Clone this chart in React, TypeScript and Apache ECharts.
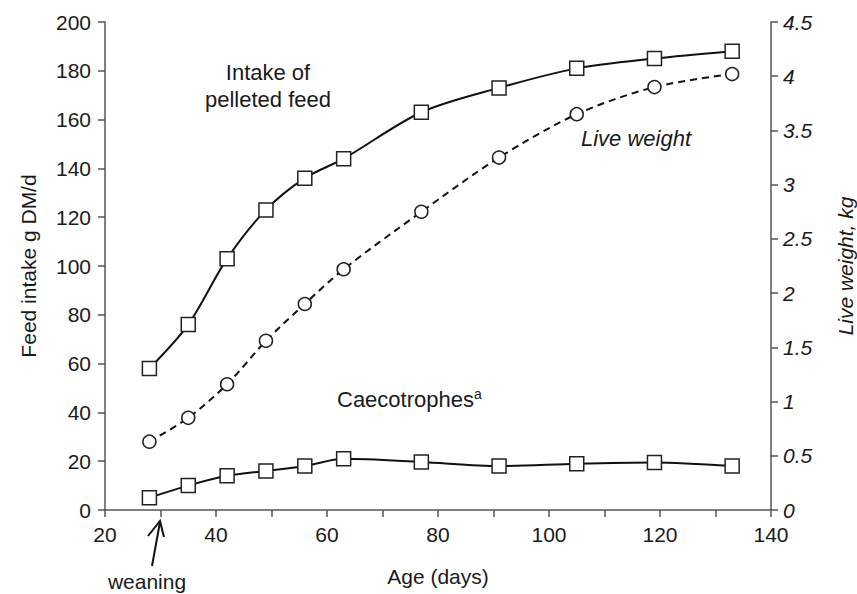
import React, { useEffect, useRef } from "react";
import * as echarts from "echarts";

const ages = [28, 35, 42, 49, 56, 63, 77, 91, 105, 119, 133];
const pelletIntake = [58, 76, 103, 123, 136, 144, 163, 173, 181, 185, 188];
const liveWeight = [0.63, 0.85, 1.16, 1.56, 1.9, 2.22, 2.75, 3.25, 3.65, 3.9, 4.02];
const caecotrophes = [5, 10, 14, 16, 18, 21, 19.7, 18, 19, 19.5, 18];

const FONT = "Liberation Sans, Arial, Helvetica, sans-serif";
const TXT = "#1a1a1a";
const AX = "#555";

export default function App() {
  const ref = useRef<HTMLDivElement>(null);
  useEffect(() => {
    if (!ref.current) return;
    const chart = echarts.init(ref.current, undefined, { renderer: "svg" });
    const pair = (ys: number[]) => ages.map((a, i) => [a, ys[i]]);
    const sqMarker = {
      symbol: "rect",
      symbolSize: 14,
      itemStyle: { color: "#fff", borderColor: "#222", borderWidth: 1.5 },
    };
    chart.setOption({
      animation: false,
      backgroundColor: "#fff",
      textStyle: { fontFamily: FONT },
      grid: { left: 105, right: 86, top: 22, bottom: 84 },
      xAxis: {
        type: "value",
        min: 20,
        max: 140,
        interval: 20,
        axisLine: { show: true, lineStyle: { color: AX, width: 1.5 } },
        axisTick: { show: true, length: 7, lineStyle: { color: AX, width: 1.5 } },
        minorTick: { show: true, splitNumber: 2, length: 7, lineStyle: { color: AX, width: 1.5 } },
        splitLine: { show: false },
        axisLabel: { color: TXT, fontSize: 21, margin: 14, fontFamily: FONT },
      },
      yAxis: [
        {
          type: "value",
          min: 0,
          max: 200,
          interval: 20,
          position: "left",
          axisLine: { show: true, lineStyle: { color: AX, width: 1.5 } },
          axisTick: { show: true, length: 7, lineStyle: { color: AX, width: 1.5 } },
          splitLine: { show: false },
          axisLabel: { color: TXT, fontSize: 21, margin: 14, fontFamily: FONT },
        },
        {
          type: "value",
          min: 0,
          max: 4.5,
          interval: 0.5,
          position: "right",
          axisLine: { show: true, lineStyle: { color: AX, width: 1.5 } },
          axisTick: { show: true, length: 7, lineStyle: { color: AX, width: 1.5 } },
          splitLine: { show: false },
          axisLabel: {
            color: TXT,
            fontSize: 21,
            margin: 12,
            fontStyle: "italic",
            fontFamily: FONT,
          },
        },
      ],
      series: [
        {
          name: "Intake of pelleted feed",
          type: "line",
          yAxisIndex: 0,
          data: pair(pelletIntake),
          smooth: 0.3,
          lineStyle: { color: "#111", width: 2 },
          ...sqMarker,
          z: 3,
        },
        {
          name: "Live weight",
          type: "line",
          yAxisIndex: 1,
          data: pair(liveWeight),
          smooth: 0.3,
          symbol: "circle",
          symbolSize: 13,
          lineStyle: { color: "#111", width: 2, type: [7, 5] },
          itemStyle: { color: "#fff", borderColor: "#222", borderWidth: 1.5 },
          z: 2,
        },
        {
          name: "Caecotrophes",
          type: "line",
          yAxisIndex: 0,
          data: pair(caecotrophes),
          smooth: 0.3,
          lineStyle: { color: "#111", width: 2 },
          ...sqMarker,
          z: 3,
        },
      ],
      graphic: [
        {
          type: "text",
          x: 28,
          y: 266,
          rotation: Math.PI / 2,
          style: {
            text: "Feed intake g DM/d",
            fill: TXT,
            font: `21px ${FONT}`,
            align: "center",
            verticalAlign: "middle",
          },
        },
        {
          type: "text",
          x: 845,
          y: 266,
          rotation: Math.PI / 2,
          style: {
            text: "Live weight, kg",
            fill: TXT,
            font: `italic 21px ${FONT}`,
            align: "center",
            verticalAlign: "middle",
          },
        },
        {
          type: "text",
          x: 438,
          y: 576,
          style: {
            text: "Age (days)",
            fill: TXT,
            font: `21px ${FONT}`,
            align: "center",
            verticalAlign: "middle",
          },
        },
        {
          type: "text",
          x: 147,
          y: 581,
          style: {
            text: "weaning",
            fill: TXT,
            font: `21px ${FONT}`,
            align: "center",
            verticalAlign: "middle",
          },
        },
        {
          type: "line",
          shape: { x1: 152, y1: 566, x2: 160, y2: 522 },
          style: { stroke: "#111", lineWidth: 2 },
        },
        {
          type: "polyline",
          shape: { points: [[148, 536], [160, 521], [164, 537]] },
          style: { stroke: "#111", lineWidth: 2, fill: null },
        },
        {
          type: "text",
          x: 268,
          y: 86,
          style: {
            text: "Intake of\npelleted feed",
            fill: TXT,
            font: `22px ${FONT}`,
            lineHeight: 27,
            align: "center",
            verticalAlign: "middle",
          },
        },
        {
          type: "text",
          x: 636,
          y: 138,
          style: {
            text: "Live weight",
            fill: TXT,
            font: `italic 22px ${FONT}`,
            align: "center",
            verticalAlign: "middle",
          },
        },
        {
          type: "text",
          x: 337,
          y: 399,
          style: {
            text: "{m|Caecotrophes}{s|a}",
            fill: TXT,
            align: "left",
            verticalAlign: "middle",
            rich: {
              m: { fontSize: 22, fontFamily: FONT, fill: TXT },
              s: { fontSize: 14, fontFamily: FONT, fill: TXT, verticalAlign: "top", padding: [0, 0, 10, 0] },
            },
          },
        },
      ],
    });
    return () => chart.dispose();
  }, []);
  return (
    <div
      ref={ref}
      style={{ position: "absolute", left: 0, top: 0, width: 857, height: 594 }}
    />
  );
}
